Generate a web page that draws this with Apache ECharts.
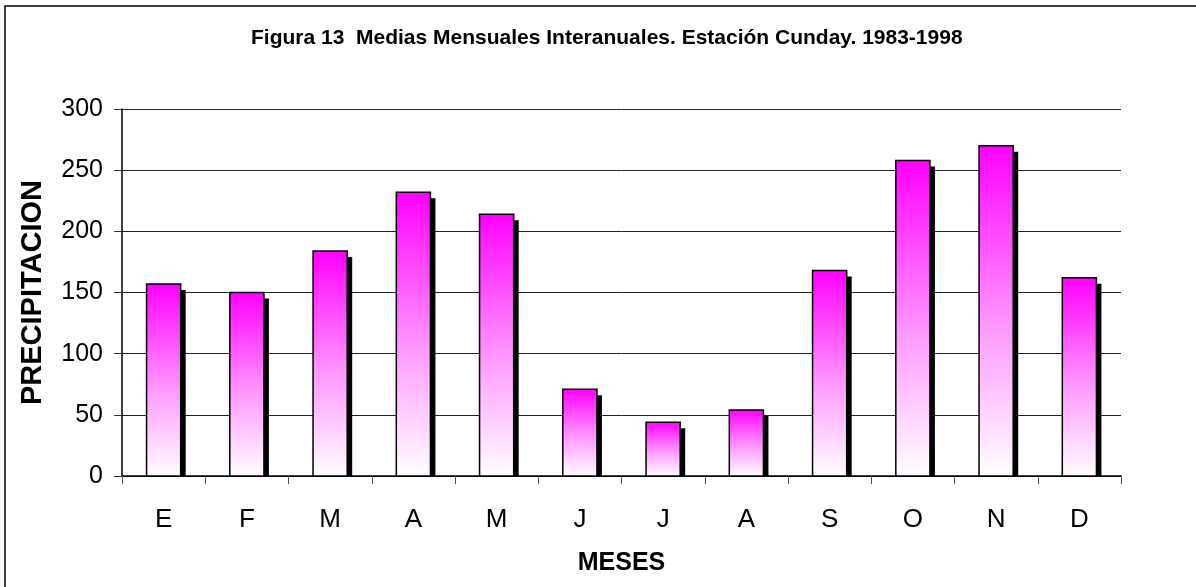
<!DOCTYPE html>
<html>
<head>
<meta charset="utf-8">
<script src="https://cdn.jsdelivr.net/npm/echarts@6/dist/echarts.min.js"></script>
<style>
  html, body { margin: 0; padding: 0; background: #fff; }
  #chart { width: 1196px; height: 587px; }
</style>
</head>
<body>
<div id="chart"></div>
<script>
const months = ['E', 'F', 'M', 'A', 'M', 'J', 'J', 'A', 'S', 'O', 'N', 'D'];
const precipitacion = [157, 150, 184, 232, 214, 71, 44, 54, 168, 258, 270, 162];
const yTicks = [0, 50, 100, 150, 200, 250, 300];

const chart = echarts.init(document.getElementById('chart'));
const font = '"Liberation Sans", Arial, sans-serif';

const barFill = new echarts.graphic.LinearGradient(0, 0, 0, 1, [
  { offset: 0, color: '#ff00ff' },
  { offset: 0.55, color: '#ff99ff' },
  { offset: 1, color: '#ffffff' },
]);

// bar + offset black shadow, cut at the x axis like the spreadsheet does
function renderBar(params, api) {
  const base = api.coord([api.value(0), 0]);
  const top = api.coord([api.value(0), api.value(1)]);
  const w = api.size([1, 0])[0] * 0.41;
  const left = base[0] - w / 2;
  const h = base[1] - top[1];
  return {
    type: 'group',
    children: [
      {
        type: 'rect',
        shape: { x: left + 5, y: top[1] + 6, width: w, height: Math.max(h - 6, 0) },
        style: { fill: '#000' },
      },
      {
        type: 'rect',
        shape: { x: left, y: top[1], width: w, height: h },
        style: { fill: barFill, stroke: '#000', lineWidth: 1.5 },
      },
    ],
  };
}

const option = {
  backgroundColor: '#fff',
  animation: false,
  title: {
    text: 'Figura 13  Medias Mensuales Interanuales. Estación Cunday. 1983-1998',
    left: 246,
    top: 23,
    textStyle: { fontFamily: font, fontSize: 21, fontWeight: 'bold', color: '#000' },
  },
  graphic: [
    {
      type: 'rect',
      shape: { x: 5, y: 6, width: 1260, height: 660 },
      style: { fill: 'none', stroke: '#000', lineWidth: 1.5 },
      silent: true,
    },
  ],
  grid: { left: 122, right: 75, top: 109, bottom: 111 },
  xAxis: {
    type: 'category',
    data: months,
    name: 'MESES',
    nameLocation: 'middle',
    nameGap: 75,
    nameTextStyle: { fontFamily: font, fontSize: 25, fontWeight: 'bold', color: '#000' },
    axisLine: { lineStyle: { color: '#000', width: 1.5 } },
    axisTick: { show: true, length: 8, lineStyle: { color: '#555' } },
    axisLabel: { margin: 31, fontFamily: font, fontSize: 26, color: '#000' },
  },
  yAxis: {
    type: 'value',
    min: yTicks[0],
    max: yTicks[yTicks.length - 1],
    interval: 50,
    name: 'PRECIPITACION',
    nameLocation: 'middle',
    nameGap: 75,
    nameTextStyle: { fontFamily: font, fontSize: 29, fontWeight: 'bold', color: '#000' },
    axisLine: { show: true, lineStyle: { color: '#000', width: 1.5 } },
    axisTick: { show: true, length: 8, lineStyle: { color: '#333' } },
    axisLabel: { margin: 19, fontFamily: font, fontSize: 25, color: '#000' },
    splitLine: { lineStyle: { color: '#222', width: 1 } },
  },
  series: [
    {
      type: 'custom',
      renderItem: renderBar,
      encode: { x: 0, y: 1 },
      data: precipitacion.map((v, i) => [i, v]),
    },
  ],
};

chart.setOption(option);
</script>
</body>
</html>
